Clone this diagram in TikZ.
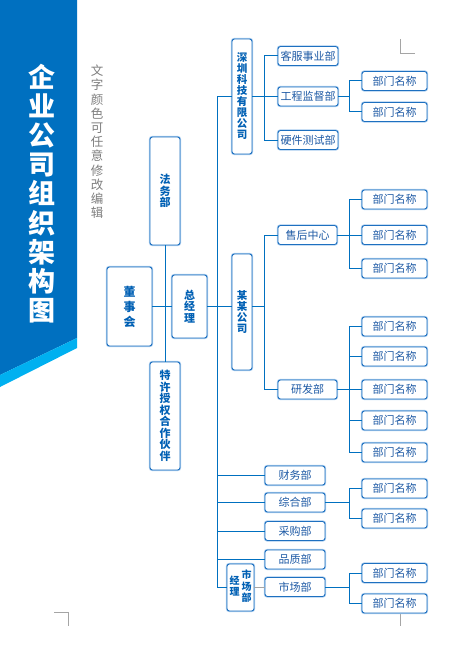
\documentclass[tikz,border=0pt]{standalone}
\usepackage{fontspec}
\setmainfont{Noto Sans CJK SC}
\usetikzlibrary{calc}
\definecolor{bannerc}{RGB}{0,112,192}
\definecolor{cyanc}{RGB}{0,176,240}
\definecolor{linec}{RGB}{0,112,192}
\definecolor{bordc}{RGB}{30,112,192}
\definecolor{glowc}{RGB}{170,205,238}
\definecolor{txtc}{RGB}{30,90,165}
\definecolor{vtxtc}{RGB}{0,96,180}
\definecolor{subc}{RGB}{125,125,125}
\definecolor{markc}{RGB}{165,165,165}
\tikzset{
  box/.style={draw=bordc, line width=0.9pt, rounded corners=2.5pt, fill=white, inner sep=0pt,
    text=txtc, font=\fontsize{11}{12}\selectfont,
    preaction={draw=glowc, line width=2.4pt, rounded corners=2.5pt}},
  hbox/.style={box, minimum width=60pt, minimum height=19pt},
  leaf/.style={box, minimum width=65pt, minimum height=19pt},
  vbox/.style={box, align=center, text=vtxtc, font=\bfseries\fontsize{11}{11.5}\selectfont},
  link/.style={draw=linec, line width=1pt},
  glink/.style={draw=markc, line width=1pt},
  crop/.style={draw=markc, line width=0.9pt}
}
\begin{document}
\begin{tikzpicture}[x=1pt,y=-1pt]
\path[use as bounding box] (0,0) rectangle (468,666);
% banner
\fill[bannerc] (0,0) -- (77,0) -- (77,338) -- (0,375) -- cycle;
\fill[cyanc] (0,375) -- (77,338) -- (77,348) -- (0,387) -- cycle;
\node[text=white, align=center, font=\bfseries\fontsize{27}{29.2}\selectfont] (title) at (42,193.5)
  {企\\业\\公\\司\\组\\织\\架\\构\\图};
\node[text=subc, align=center, font=\fontsize{12.5}{14.2}\selectfont] (sub) at (97,142)
  {文\\字\\颜\\色\\可\\任\\意\\修\\改\\编\\辑};
% crop marks
\draw[crop] (400,39) -- (400,53) -- (415,53);
\draw[crop] (54,612) -- (68,612) -- (68,626);
\draw[crop] (400,612) -- (400,626);
% left cluster
\node[vbox, minimum width=30pt, minimum height=108pt] (fw) at (165,191) {法\\务\\部};
\node[vbox, minimum width=45pt, minimum height=79pt, font=\bfseries\fontsize{12}{15}\selectfont] (dsh) at (129.5,306.5) {董\\事\\会};
\node[vbox, minimum width=35pt, minimum height=63pt] (zjl) at (189.5,306.5) {总\\经\\理};
\node[vbox, minimum width=30pt, minimum height=108pt] (tx) at (165,416) {特\\许\\授\\权\\合\\作\\伙\\伴};
% companies
\node[vbox, minimum width=20pt, minimum height=115pt, font=\bfseries\fontsize{10.5}{11}\selectfont] (sz) at (242,96.5) {深\\圳\\科\\技\\有\\限\\公\\司};
\node[vbox, minimum width=20pt, minimum height=116pt, font=\bfseries\fontsize{10.5}{10.8}\selectfont] (mm) at (242,312) {某\\某\\公\\司};
% shenzhen branch
\node[hbox] (kf) at (308,56) {客服事业部};
\node[hbox] (gc) at (308,96.5) {工程监督部};
\node[hbox] (yj) at (308,140) {硬件测试部};
\node[leaf] (g1) at (394.5,81) {部门名称};
\node[leaf] (g2) at (394.5,112) {部门名称};
% mm branch
\node[hbox, minimum width=59pt] (sh) at (307.5,235) {售后中心};
\node[hbox, minimum width=59pt] (yf) at (307.5,389.5) {研发部};
\node[leaf] (s1) at (394.5,199.5) {部门名称};
\node[leaf] (s2) at (394.5,235) {部门名称};
\node[leaf] (s3) at (394.5,268.5) {部门名称};
\node[leaf] (y1) at (394.5,326.5) {部门名称};
\node[leaf] (y2) at (394.5,356.5) {部门名称};
\node[leaf] (y3) at (394.5,389.5) {部门名称};
\node[leaf] (y4) at (394.5,420.5) {部门名称};
\node[leaf] (y5) at (394.5,452.5) {部门名称};
% bottom departments
\node[hbox] (cw) at (295,475.5) {财务部};
\node[hbox] (zh) at (295,502.5) {综合部};
\node[hbox] (cg) at (295,531) {采购部};
\node[hbox] (pz) at (295,559.5) {品质部};
\node[hbox] (sc) at (295,587) {市场部};
\node[box, minimum width=27pt, minimum height=47pt, text=vtxtc, font=\bfseries\fontsize{10}{10.2}\selectfont] (scjl) at (240.5,587.5)
  {\begin{tabular}[c]{@{}c@{}}经\\理\end{tabular}\hspace{2pt}\begin{tabular}[c]{@{}c@{}}市\\场\\部\end{tabular}};
\node[leaf] (z1) at (394.5,488.5) {部门名称};
\node[leaf] (z2) at (394.5,518.5) {部门名称};
\node[leaf] (m1) at (394.5,573) {部门名称};
\node[leaf] (m2) at (394.5,603.5) {部门名称};
% connectors: left cluster
\draw[link] (fw.south) -- (tx.north);
\draw[link] (dsh.east) -- (zjl.west);
\draw[link] (zjl.east) -- (zjl.east -| mm.west);
% trunk
\coordinate (ttop) at (217,96.5);
\coordinate (tbot) at (217,587.5);
\draw[link] (ttop) -- (tbot);
\draw[link] (ttop) -- (sz.west);
\draw[link] (tbot) -- (scjl.west);
\draw[link] (cw.west -| ttop) -- (cw.west);
\draw[link] (zh.west -| ttop) -- (zh.west);
\draw[link] (cg.west -| ttop) -- (cg.west);
\draw[link] (pz.west -| ttop) -- (pz.west);
% shenzhen
\draw[link] (sz.east) -- (gc.west);
\draw[link] (kf.west) -- ++(-13,0) |- (yj.west);
\coordinate (gbar) at ($(g1.west)+(-12,0)$);
\draw[link] (gc.east) -- (gc.east -| gbar);
\draw[link] (g1.west) -- (gbar) |- (g2.west);
% mm
\draw[link] (zjl.east -| mm.east) -- ++(13,0);
\draw[link] (sh.west) -- ++(-13,0) |- (yf.west);
\draw[link] (sh.east) -- (s2.west);
\draw[link] (s1.west) -- ++(-12,0) |- (s3.west);
\draw[link] (yf.east) -- (y3.west);
\draw[link] (y1.west) -- ++(-12,0) |- (y5.west);
\draw[link] (y2.west) -- ++(-12,0);
\draw[link] (y4.west) -- ++(-12,0);
% zonghe
\coordinate (zbar) at ($(z1.west)+(-12,0)$);
\draw[link] (zh.east) -- (zh.east -| zbar);
\draw[link] (z1.west) -- (zbar) |- (z2.west);
% shichang
\draw[glink] (scjl.east) -- (scjl.east -| sc.west);
\coordinate (mbar) at ($(m1.west)+(-12,0)$);
\draw[link] (sc.east) -- (sc.east -| mbar);
\draw[link] (m1.west) -- (mbar) |- (m2.west);
\end{tikzpicture}
\end{document}
